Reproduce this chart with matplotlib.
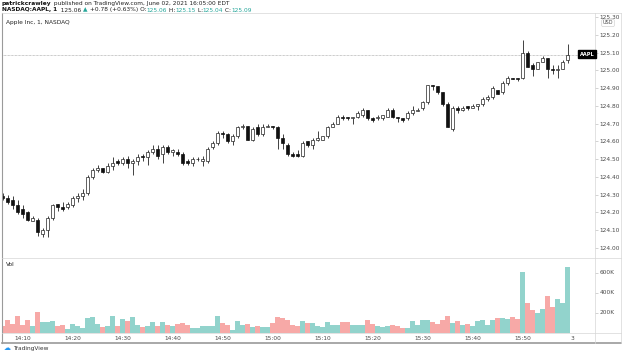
import matplotlib
matplotlib.use("Agg")
import matplotlib.pyplot as plt
import numpy as np
from matplotlib.lines import Line2D

# 1-minute AAPL bars, 14:06 .. 15:59 (June 02, 2021)
start_minute = 14 * 60 + 6
opens = [
    124.29, 124.28, 124.27, 124.24, 124.22, 124.20, 124.15, 124.16, 124.08, 124.10,
    124.17, 124.25, 124.23, 124.23, 124.24, 124.28, 124.29, 124.31, 124.40, 124.44,
    124.45, 124.43, 124.46, 124.49, 124.48, 124.50, 124.48, 124.49, 124.52, 124.51,
    124.54, 124.56, 124.53, 124.57, 124.54, 124.54, 124.53, 124.49, 124.48, 124.50,
    124.49, 124.49, 124.57, 124.59, 124.65, 124.64, 124.60, 124.63, 124.68, 124.69,
    124.61, 124.68, 124.64, 124.68, 124.69, 124.68, 124.62, 124.58, 124.53, 124.53,
    124.52, 124.60, 124.58, 124.61, 124.61, 124.63, 124.68, 124.70, 124.74, 124.74,
    124.73, 124.74, 124.75, 124.78, 124.73, 124.73, 124.73, 124.74, 124.78, 124.74,
    124.73, 124.73, 124.76, 124.77, 124.79, 124.82, 124.92, 124.91, 124.88, 124.81,
    124.67, 124.79, 124.78, 124.80, 124.79, 124.80, 124.81, 124.84, 124.85, 124.89,
    124.88, 124.93, 124.96, 124.96, 124.96, 125.10, 125.03, 125.01, 125.05, 125.07,
    125.01, 125.00, 125.01, 125.06,
]
highs = [
    124.31, 124.30, 124.29, 124.27, 124.24, 124.21, 124.18, 124.17, 124.11, 124.18,
    124.25, 124.25, 124.26, 124.26, 124.29, 124.31, 124.33, 124.41, 124.45, 124.47,
    124.45, 124.48, 124.51, 124.50, 124.51, 124.52, 124.50, 124.53, 124.53, 124.55,
    124.58, 124.58, 124.58, 124.58, 124.56, 124.56, 124.54, 124.50, 124.51, 124.51,
    124.52, 124.57, 124.60, 124.66, 124.66, 124.65, 124.64, 124.69, 124.70, 124.69,
    124.68, 124.70, 124.70, 124.70, 124.69, 124.69, 124.64, 124.59, 124.54, 124.55,
    124.60, 124.60, 124.62, 124.66, 124.63, 124.69, 124.71, 124.75, 124.75, 124.74,
    124.74, 124.77, 124.79, 124.78, 124.74, 124.75, 124.75, 124.79, 124.79, 124.74,
    124.73, 124.77, 124.80, 124.79, 124.83, 124.92, 124.92, 124.91, 124.88, 124.82,
    124.80, 124.80, 124.80, 124.80, 124.81, 124.81, 124.85, 124.86, 124.91, 124.89,
    124.94, 124.97, 124.96, 124.96, 125.17, 125.11, 125.04, 125.05, 125.08, 125.07,
    125.03, 125.03, 125.06, 125.15,
]
lows = [
    124.27, 124.25, 124.22, 124.19, 124.17, 124.15, 124.15, 124.07, 124.06, 124.06,
    124.16, 124.21, 124.21, 124.22, 124.23, 124.26, 124.27, 124.30, 124.39, 124.43,
    124.42, 124.42, 124.44, 124.47, 124.47, 124.45, 124.41, 124.47, 124.49, 124.47,
    124.53, 124.50, 124.48, 124.53, 124.52, 124.52, 124.47, 124.47, 124.46, 124.49,
    124.46, 124.48, 124.56, 124.58, 124.62, 124.59, 124.58, 124.62, 124.67, 124.61,
    124.60, 124.63, 124.63, 124.68, 124.67, 124.56, 124.56, 124.52, 124.51, 124.51,
    124.51, 124.57, 124.56, 124.60, 124.61, 124.62, 124.68, 124.70, 124.72, 124.72,
    124.70, 124.73, 124.74, 124.72, 124.71, 124.72, 124.72, 124.74, 124.73, 124.71,
    124.71, 124.72, 124.75, 124.77, 124.78, 124.81, 124.89, 124.87, 124.80, 124.68,
    124.66, 124.76, 124.77, 124.78, 124.79, 124.78, 124.80, 124.83, 124.84, 124.87,
    124.87, 124.92, 124.95, 124.94, 124.95, 125.02, 124.97, 125.01, 125.05, 124.96,
    124.98, 124.96, 125.01, 125.04,
]
closes = [
    124.28, 124.26, 124.24, 124.20, 124.19, 124.16, 124.17, 124.09, 124.10, 124.17,
    124.24, 124.23, 124.22, 124.25, 124.28, 124.29, 124.31, 124.40, 124.44, 124.45,
    124.43, 124.46, 124.48, 124.48, 124.50, 124.48, 124.49, 124.51, 124.51, 124.54,
    124.56, 124.52, 124.57, 124.54, 124.55, 124.53, 124.48, 124.48, 124.50, 124.50,
    124.50, 124.56, 124.59, 124.65, 124.64, 124.60, 124.63, 124.68, 124.69, 124.61,
    124.67, 124.64, 124.68, 124.69, 124.68, 124.62, 124.59, 124.53, 124.52, 124.52,
    124.59, 124.58, 124.61, 124.62, 124.63, 124.68, 124.70, 124.74, 124.73, 124.73,
    124.74, 124.76, 124.78, 124.73, 124.72, 124.74, 124.75, 124.78, 124.74, 124.73,
    124.72, 124.76, 124.78, 124.78, 124.82, 124.92, 124.91, 124.88, 124.81, 124.68,
    124.79, 124.78, 124.79, 124.79, 124.80, 124.81, 124.84, 124.85, 124.90, 124.87,
    124.93, 124.96, 124.95, 124.95, 125.10, 125.02, 125.01, 125.05, 125.07, 125.01,
    125.00, 125.01, 125.05, 125.09,
]
# volume in thousands of shares
volumes = [
    63, 127, 87, 163, 80, 127, 63, 203, 110, 103,
    120, 70, 77, 40, 87, 70, 43, 147, 160, 87,
    53, 70, 163, 70, 137, 120, 153, 77, 53, 70,
    103, 70, 110, 77, 70, 87, 97, 77, 47, 47,
    63, 63, 63, 163, 93, 80, 30, 117, 77, 83,
    60, 67, 60, 60, 100, 157, 147, 130, 77, 70,
    113, 97, 97, 70, 53, 103, 80, 80, 103, 107,
    73, 73, 77, 123, 90, 67, 57, 70, 73, 70,
    47, 50, 120, 77, 127, 123, 110, 87, 130, 163,
    100, 113, 80, 87, 70, 117, 127, 77, 130, 147,
    147, 140, 160, 135, 603, 293, 227, 193, 237, 363,
    260, 337, 293, 660,
]
time_ticks = ["14:10", "14:20", "14:30", "14:40", "14:50", "15:00",
              "15:10", "15:20", "15:30", "15:40", "15:50", "3"]
time_tick_minutes = [14 * 60 + 10 + 10 * i for i in range(len(time_ticks))]
price_ticks = [round(124.0 + 0.1 * i, 2) for i in range(14)]
vol_ticks = [200, 400, 600]
last_price = 125.09

W, H = 624, 357
TEAL = "#26a69a"
VOL_UP = "#92d3cc"
VOL_DN = "#f7a9a7"
TXT = "#4a4a4a"
FS = 4.2


def fx(x):
    return x / W


def fy(y):
    return 1 - y / H


o = np.array(opens)
h = np.array(highs)
l = np.array(lows)
c = np.array(closes)
v = np.array(volumes)
xs = np.arange(len(o))
up = c >= o

fig = plt.figure(figsize=(W / 100, H / 100), dpi=100)
fig.patch.set_facecolor("white")

# main price pane
ax = fig.add_axes([fx(2), fy(257), fx(595) - fx(2), fy(13) - fy(257)])
ax.set_xlim(-0.1, 118.5)
ax.set_ylim(123.949, 125.324)

ax.vlines(xs, l, h, color="#222222", linewidth=0.6, zorder=2)
body_lo = np.minimum(o, c)
body_h = np.maximum(np.abs(c - o), 0.004)
ax.bar(xs[up], body_h[up], bottom=body_lo[up], width=0.7,
       color="white", edgecolor="#222222", linewidth=0.5, zorder=3)
ax.bar(xs[~up], body_h[~up], bottom=body_lo[~up], width=0.7,
       color="#111111", edgecolor="#111111", linewidth=0.5, zorder=3)

# last price line
ax.axhline(last_price, color="#9a9a9a", linewidth=0.5, linestyle=(0, (1, 1)), zorder=1)

ax.yaxis.tick_right()
ax.set_yticks(price_ticks)
ax.set_yticklabels([f"{p:.2f}" for p in price_ticks])
ax.tick_params(axis="y", length=2, width=0.4, color="#b0b0b0", pad=1.5,
               labelsize=FS, labelcolor=TXT)
ax.set_xticks([])
for s in ax.spines.values():
    s.set_visible(False)

# volume pane
axv = fig.add_axes([fx(2), fy(332.5), fx(595) - fx(2), fy(258) - fy(332.5)])
axv.set_xlim(-0.1, 118.5)
axv.set_ylim(0, 745)
axv.bar(xs[up], v[up], width=0.82, color=VOL_UP, linewidth=0)
axv.bar(xs[~up], v[~up], width=0.82, color=VOL_DN, linewidth=0)
axv.yaxis.tick_right()
axv.set_yticks(vol_ticks)
axv.set_yticklabels([f"{t}K" for t in vol_ticks])
axv.tick_params(axis="y", length=2, width=0.4, color="#b0b0b0", pad=1.5,
                labelsize=FS, labelcolor=TXT)
axv.set_xticks([m - start_minute for m in time_tick_minutes])
axv.set_xticklabels(time_ticks)
axv.tick_params(axis="x", length=0, pad=2.5, labelsize=FS, labelcolor=TXT)
for s in axv.spines.values():
    s.set_visible(False)

# frame and separators
lines = [
    ((2, 2), (13, 343), "#9a9a9a", 0.8),
    ((2, 621), (343, 343), "#9a9a9a", 1.2),
    ((2, 621), (13, 13), "#d6d6d6", 0.5),
    ((621, 621), (13, 343), "#d6d6d6", 0.5),
    ((595, 595), (13, 343), "#d6d6d6", 0.5),
    ((2, 621), (257.5, 257.5), "#d6d6d6", 0.5),
    ((2, 621), (332.5, 332.5), "#d6d6d6", 0.5),
]
for (x0, x1), (y0, y1), col, lw in lines:
    fig.add_artist(Line2D([fx(x0), fx(x1)], [fy(y0), fy(y1)], color=col,
                          linewidth=lw, transform=fig.transFigure))

# AAPL badge on the price line
fig.text(fx(587), fy(54), "AAPL", color="white", fontsize=3.6, fontweight="bold",
         ha="center", va="center",
         bbox=dict(boxstyle="square,pad=0.25", fc="black", ec="black"))
# USD box at top of price scale
fig.text(fx(608), fy(23), "USD", color=TXT, fontsize=3.6, ha="center", va="center",
         bbox=dict(boxstyle="round,pad=0.2", fc="white", ec="#c8c8c8", lw=0.4))

fig.text(fx(6), fy(22.5), "Apple Inc, 1, NASDAQ", fontsize=FS, color="#222222",
         va="center")
fig.text(fx(6), fy(265), "Vol", fontsize=FS, color="#222222", va="center")


# header lines drawn piece by piece
def header(y, parts, x0=2):
    renderer = fig.canvas.get_renderer()
    x = fx(x0)
    for txt, col, bold in parts:
        t = fig.text(x, fy(y), txt, fontsize=FS, color=col, va="center",
                     fontweight="bold" if bold else "normal")
        bb = t.get_window_extent(renderer=renderer)
        x += bb.width / W


header(4, [("patrickcrawley", "#111111", True),
           (" published on TradingView.com, June 02, 2021 16:05:00 EDT", "#222222", False)])
header(10, [("NASDAQ:AAPL, 1", "#111111", True),
            ("  125.06 ", "#222222", False),
            ("\u25b2", TEAL, False),
            (" +0.78 (+0.63%) O:", "#222222", False),
            ("125.06", TEAL, False),
            (" H:", "#222222", False),
            ("125.15", TEAL, False),
            (" L:", "#222222", False),
            ("125.04", TEAL, False),
            (" C:", "#222222", False),
            ("125.09", TEAL, False)])

# footer logo
fig.text(fx(4), fy(348.5), "\u2601", fontsize=5, color="#2196f3", va="center")
fig.text(fx(13), fy(348.5), "TradingView", fontsize=FS, color="#333333", va="center")

fig.savefig("out.png", dpi=100)
